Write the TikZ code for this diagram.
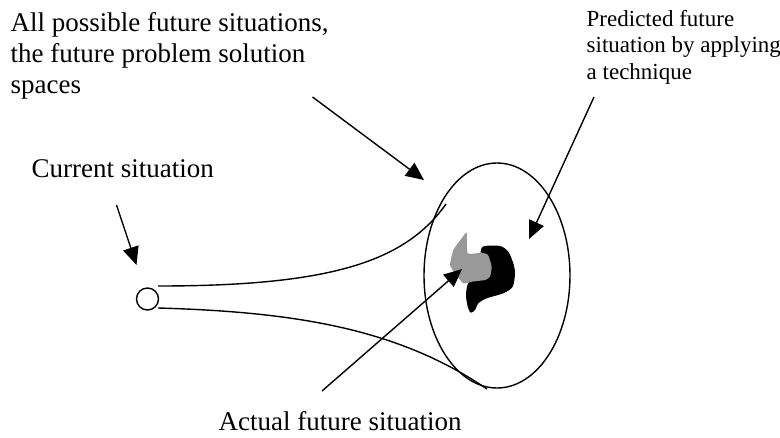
\documentclass[tikz,border=0pt]{standalone}
\usepackage{fontspec}
\setmainfont{Liberation Serif}
\usetikzlibrary{arrows.meta,shapes.geometric}
\begin{document}
\begin{tikzpicture}[x=1pt,y=-1pt,line width=1.4pt,
  pointer/.style={-{Triangle[length=18pt,width=16pt]},line width=1.4pt},
  biglabel/.style={font=\fontsize{27}{31}\selectfont,inner sep=0pt,anchor=base west,align=left},
  smalllabel/.style={font=\fontsize{23}{26.5}\selectfont,inner sep=0pt,anchor=base west,align=left},
  curve/.style={line width=1.4pt}]
\useasboundingbox (0,0) rectangle (780,437);

% labels (base anchor = baseline of last line)
\node[biglabel] (lblall) at (10,93) {All possible future situations,\\the future problem solution\\spaces};
\node[biglabel] (lblcur) at (31,177) {Current situation};
\node[biglabel] (lblact) at (218,430) {Actual future situation};
\node[smalllabel] (lblpred) at (586,79) {Predicted future\\situation by applying\\a technique};

% current situation circle and future ellipse
\node[circle,draw,minimum size=22pt,inner sep=0pt,line width=1.4pt] (cur) at (147.5,299) {};
\node[ellipse,draw,minimum width=146pt,minimum height=225pt,inner sep=0pt,line width=1.4pt] (fut) at (497,275.5) {};

% trumpet curves
\coordinate (upS) at (158,286);
\coordinate (upE) at (446,204);
\coordinate (loS) at (158,308);
\coordinate (loE) at (487,389);
\draw[curve] (upS) .. controls (330,286) and (405,262) .. (upE);
\draw[curve] (loS) .. controls (300,312) and (400,330) .. (loE);

% blobs
\fill[black] plot[smooth cycle,tension=0.45] coordinates {
  (482.7,246.7) (500,246) (508.3,251.7) (513.3,263.3) (515,273.3) (512.7,286.7)
  (503.3,293.3) (486.7,298.3) (478.3,303.3) (475,310) (470.7,312.7) (467.7,306.7)
  (466,295) (468.3,283) (478,275) (480,258)};
\node[inner sep=0pt,minimum size=0pt] (pred) at (495,270) {};
\fill[black!40] plot[smooth cycle,tension=0.3] coordinates {
  (466.7,232.7) (467.7,253.3) (481.7,252.7) (488,255) (491.7,266.7) (490,276.7)
  (485,280) (471.7,281.7) (463.3,283.3) (455,273.3) (450,265) (453.3,250) (461.7,238.3)};
\node[inner sep=0pt,minimum size=0pt] (act) at (470,262) {};

% arrows
\coordinate (a1s) at (116.5,205);
\coordinate (a1e) at (136.5,265);
\coordinate (a2s) at (312.5,97);
\coordinate (a2e) at (424,180);
\coordinate (a3s) at (594,97);
\coordinate (a3e) at (529,239);
\coordinate (a4s) at (322,391);
\coordinate (a4e) at (462,269);
\draw[pointer] (a1s) -- (a1e);
\draw[pointer] (a2s) -- (a2e);
\draw[pointer] (a3s) -- (a3e);
\draw[pointer] (a4s) -- (a4e);
\end{tikzpicture}
\end{document}
